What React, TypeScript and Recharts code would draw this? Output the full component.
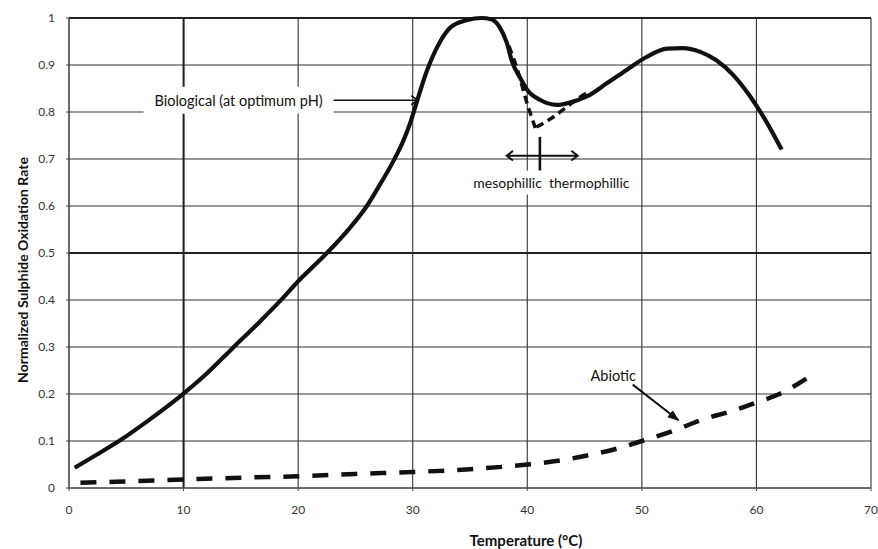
import React from 'react';
import {
  LineChart,
  Line,
  XAxis,
  YAxis,
  CartesianGrid,
  ReferenceLine,
  ReferenceDot,
  Label,
} from 'recharts';

const FONT = 'Lato, "Open Sans", sans-serif';

// Biological curve (temperature °C, normalized rate)
const bioT = [0.5, 2, 4.5, 7, 9.7, 12, 14.3, 16.7, 18.7, 20, 21.9, 23.1, 24.5, 26, 27.2, 28.3, 29.2, 29.8, 30.4, 31.2, 32.4, 33.3, 34.7, 36, 36.9, 37.6, 38.2, 38.7, 39.4, 40, 41.1, 42.6, 43.7, 45.2, 47, 48.7, 50.4, 52.2, 53.6, 55.1, 56.5, 58, 59.4, 60.9, 62.2];
const bioY = [0.043, 0.065, 0.102, 0.145, 0.195, 0.243, 0.298, 0.355, 0.405, 0.44, 0.485, 0.515, 0.553, 0.6, 0.648, 0.695, 0.74, 0.778, 0.825, 0.885, 0.95, 0.98, 0.995, 1.0, 0.997, 0.98, 0.948, 0.905, 0.872, 0.847, 0.826, 0.815, 0.82, 0.833, 0.862, 0.89, 0.917, 0.935, 0.936, 0.928, 0.91, 0.878, 0.835, 0.778, 0.72];

// Mesophilic extrapolation (dashed)
const mesoT = [38.4, 39.2, 39.9, 40.7];
const mesoY = [0.94, 0.885, 0.825, 0.766];

// Thermophilic extrapolation (dashed)
const thermoT = [40.8, 42, 43.3, 44.5, 45.5];
const thermoY = [0.768, 0.785, 0.808, 0.83, 0.845];

// Abiotic curve (dashed)
const abT = [1, 5, 10, 15, 20, 25, 30, 35, 40, 43, 45, 48, 50, 53, 55, 58, 60, 62, 65];
const abY = [0.011, 0.014, 0.018, 0.022, 0.025, 0.03, 0.034, 0.04, 0.05, 0.059, 0.068, 0.085, 0.1, 0.124, 0.143, 0.165, 0.182, 0.2, 0.243];

const xTicks = [0, 10, 20, 30, 40, 50, 60, 70];
const yTicks = [0, 0.1, 0.2, 0.3, 0.4, 0.5, 0.6, 0.7, 0.8, 0.9, 1];
const heavyX = [10];
const heavyY = [0.5, 1];

const xTitle = 'Temperature (°C)';
const yTitle = 'Normalized Sulphide Oxidation Rate';

// Annotations
const bioLabel = { text: 'Biological (at optimum pH)', x: 14.8, y: 0.825 };
const bioArrow = [{ x: 22.6, y: 0.825 }, { x: 30.45, y: 0.825 }];
const phaseLabel = { text: 'mesophillic  thermophillic', x: 42.1, y: 0.65 };
const phaseDivider = [{ x: 41.1, y: 0.747 }, { x: 41.1, y: 0.671 }];
const phaseArrow = [{ x: 38.2, y: 0.707 }, { x: 44.4, y: 0.707 }];
const abLabel = { text: 'Abiotic', x: 47.5, y: 0.239 };
const abArrow = [{ x: 49.2, y: 0.22 }, { x: 53.2, y: 0.144 }];

const zip = (xs: number[], ys: number[]) => xs.map((x, i) => ({ x, y: ys[i] }));
const bioData = zip(bioT, bioY);
const mesoData = zip(mesoT, mesoY);
const thermoData = zip(thermoT, thermoY);
const abData = zip(abT, abY);

const INK = '#111';

function openHead(x: number, y: number, ang: number, len: number, spread: number, w: number) {
  const a1 = ang + Math.PI - spread;
  const a2 = ang + Math.PI + spread;
  return (
    <polyline
      points={`${x + len * Math.cos(a1)},${y + len * Math.sin(a1)} ${x},${y} ${x + len * Math.cos(a2)},${y + len * Math.sin(a2)}`}
      fill="none"
      stroke={INK}
      strokeWidth={w}
      strokeLinejoin="miter"
    />
  );
}

function filledHead(x: number, y: number, ang: number, len: number, spread: number) {
  const a1 = ang + Math.PI - spread;
  const a2 = ang + Math.PI + spread;
  return (
    <polygon
      points={`${x + len * Math.cos(a1)},${y + len * Math.sin(a1)} ${x},${y} ${x + len * Math.cos(a2)},${y + len * Math.sin(a2)}`}
      fill={INK}
      stroke={INK}
      strokeWidth={1}
    />
  );
}

const arrowShape = (kind: 'open' | 'double' | 'filled' | 'none', w: number) => (p: any) => {
  const { x1, y1, x2, y2 } = p;
  const ang = Math.atan2(y2 - y1, x2 - x1);
  return (
    <g>
      <line x1={x1} y1={y1} x2={x2} y2={y2} stroke={INK} strokeWidth={w} />
      {kind === 'open' && openHead(x2, y2, ang, 8, 0.6, w)}
      {kind === 'double' && openHead(x2, y2, ang, 8, 0.65, w)}
      {kind === 'double' && openHead(x1, y1, ang + Math.PI, 8, 0.65, w)}
      {kind === 'filled' && filledHead(x2, y2, ang, 11, 0.35)}
    </g>
  );
};

const textShape = (text: string, size: number, boxW: number, boxH: number) => (p: any) => {
  const { cx, cy } = p;
  return (
    <g>
      {boxW > 0 && <rect x={cx - boxW / 2} y={cy - boxH / 2} width={boxW} height={boxH} fill="#fff" />}
      <text
        x={cx}
        y={cy}
        textAnchor="middle"
        dominantBaseline="central"
        fontFamily={FONT}
        fontSize={size}
        fill={INK}
        style={{ whiteSpace: 'pre' }}
      >
        {text}
      </text>
    </g>
  );
};

export default function App() {
  return (
    <div style={{ width: 878, height: 549, background: '#fff' }}>
      <style>{'html, body { margin: 0; padding: 0; }'}</style>
      <LineChart width={878} height={549} margin={{ top: 18, right: 7, left: 0, bottom: 0 }}>
        <CartesianGrid stroke="#333" strokeWidth={1.1} horizontalValues={yTicks} verticalValues={xTicks} />
        <XAxis
          type="number"
          dataKey="x"
          domain={[0, 70]}
          ticks={xTicks}
          allowDataOverflow
          height={61}
          tickSize={3}
          tickMargin={14}
          stroke="#444"
          tick={{ fontSize: 12, fill: '#333', fontFamily: FONT }}
        >
          <Label
            content={(props: any) => {
              const vb = props.viewBox;
              return (
                <text
                  x={vb.x + vb.width / 2 + 56}
                  y={vb.y + 52}
                  textAnchor="middle"
                  dominantBaseline="central"
                  fontFamily={FONT}
                  fontWeight="bold"
                  fontSize={15}
                  fill={INK}
                >
                  {xTitle}
                </text>
              );
            }}
          />
        </XAxis>
        <YAxis
          type="number"
          domain={[0, 1]}
          ticks={yTicks}
          width={69}
          tickSize={3}
          tickMargin={11}
          stroke="#444"
          tickFormatter={(v: number) => String(v)}
          tick={{ fontSize: 12, fill: '#333', fontFamily: FONT }}
        >
          <Label
            content={(props: any) => {
              const vb = props.viewBox;
              const cx = vb.x + 22;
              const cy = vb.y + vb.height / 2 + 17;
              return (
                <text
                  x={cx}
                  y={cy}
                  transform={`rotate(-90 ${cx} ${cy})`}
                  textAnchor="middle"
                  dominantBaseline="central"
                  fontFamily={FONT}
                  fontWeight="bold"
                  fontSize={14}
                  fill={INK}
                >
                  {yTitle}
                </text>
              );
            }}
          />
        </YAxis>

        {heavyX.map((v) => (
          <ReferenceLine key={`hx${v}`} x={v} stroke="#222" strokeWidth={2} />
        ))}
        {heavyY.map((v) => (
          <ReferenceLine key={`hy${v}`} y={v} stroke="#222" strokeWidth={2} />
        ))}

        <ReferenceDot x={bioLabel.x} y={bioLabel.y} r={0} shape={textShape(bioLabel.text, 14.5, 190, 27)} />
        <ReferenceDot x={phaseLabel.x} y={phaseLabel.y} r={0} shape={textShape(phaseLabel.text, 14, 175, 24)} />
        <ReferenceDot x={abLabel.x} y={abLabel.y} r={0} shape={textShape(abLabel.text, 14.5, 0, 0)} />

        <Line data={abData} dataKey="y" type="monotone" stroke={INK} strokeWidth={4.5} strokeDasharray="16 13" dot={false} isAnimationActive={false} />
        <Line data={mesoData} dataKey="y" type="monotone" stroke={INK} strokeWidth={3.5} strokeDasharray="8 5" dot={false} isAnimationActive={false} />
        <Line data={thermoData} dataKey="y" type="monotone" stroke={INK} strokeWidth={3.5} strokeDasharray="8 5" dot={false} isAnimationActive={false} />
        <Line data={bioData} dataKey="y" type="monotone" stroke={INK} strokeWidth={4.2} dot={false} isAnimationActive={false} />

        <ReferenceLine segment={bioArrow} shape={arrowShape('open', 1.6)} />
        <ReferenceLine segment={phaseDivider} shape={arrowShape('none', 2.6)} />
        <ReferenceLine segment={phaseArrow} shape={arrowShape('double', 2)} />
        <ReferenceLine segment={abArrow} shape={arrowShape('filled', 2)} />
      </LineChart>
    </div>
  );
}
